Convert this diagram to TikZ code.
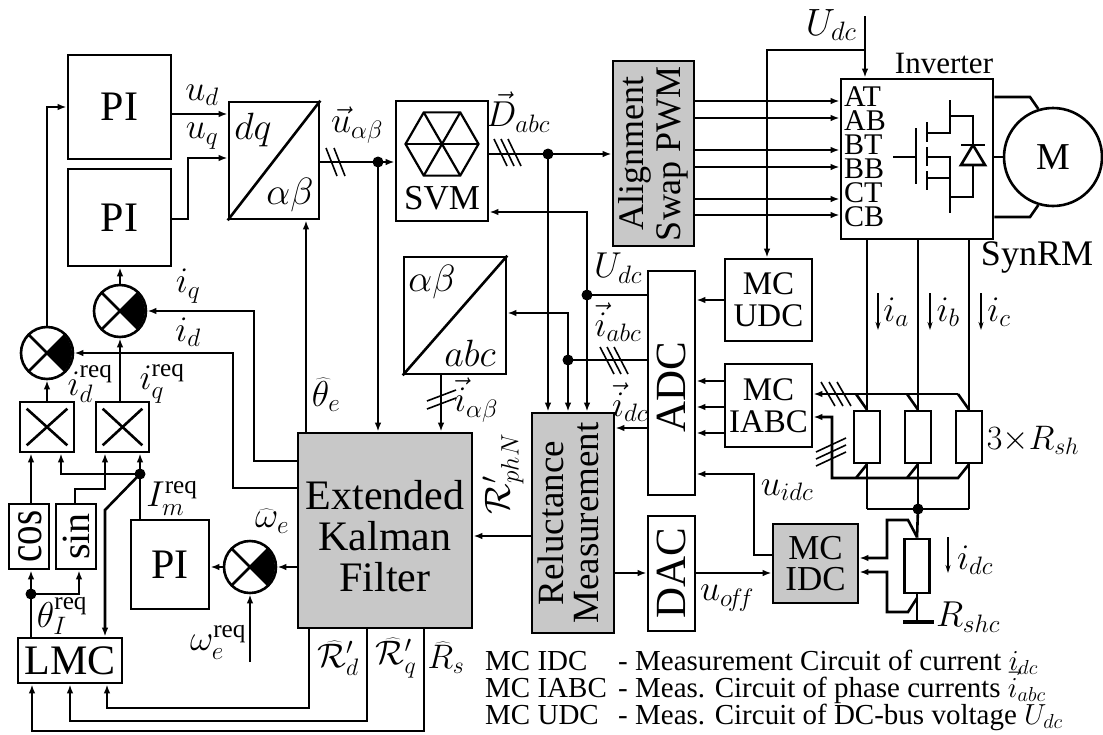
\RequirePackage{fix-cm}
\documentclass[tikz,border=0pt]{standalone}
\usepackage{fontspec}
\setmainfont{Liberation Serif}
\usetikzlibrary{arrows.meta,calc}
\definecolor{boxgray}{RGB}{200,200,200}
\tikzset{
  lw/.style={line width=2.6pt},
  box/.style={draw, lw, inner sep=0pt, align=center},
  gbox/.style={box, fill=boxgray},
  conn/.style={lw, line join=miter},
  arr/.style={conn, -{Latex[length=9pt,width=6.5pt]}},
  slashln/.style={line width=1.6pt},
  sumc/.style={draw, lw, circle, inner sep=0pt, minimum size=52pt},
  jdot/.style={circle, fill, inner sep=0pt, minimum size=11pt},
  fPI/.style={font=\fontsize{42}{44}\selectfont},
  fm/.style={font=\fontsize{36}{38}\selectfont, inner sep=0pt},
  fms/.style={font=\fontsize{34}{36}\selectfont, inner sep=0pt},
  fbig/.style={font=\fontsize{38}{40}\selectfont, inner sep=0pt},
  fmc/.style={font=\fontsize{33}{32}\selectfont},
  fleg/.style={font=\fontsize{29}{29}\selectfont, inner sep=0pt},
  fio/.style={font=\fontsize{30}{30}\selectfont, inner sep=0pt, anchor=west},
  rtext/.style={rotate=90, align=center, inner sep=0pt},
  smallarr/.style={line width=1.4pt, -{Stealth[length=8pt,width=5pt]}},
}
\begin{document}
\begin{tikzpicture}[x=1pt,y=-1pt]
\useasboundingbox (0,0) rectangle (1103,734);

% ---------- blocks ----------
\node[box,fPI,minimum width=103pt,minimum height=104pt] (PI1) at (119.5,107) {PI};
\node[box,fPI,minimum width=103pt,minimum height=97pt] (PI2) at (119.5,217.5) {PI};
\node[box,minimum width=90pt,minimum height=117pt] (dq) at (274,160.5) {};
\draw[conn] (dq.south west) -- (dq.north east);
\node[fbig] (dqt1) at (253,130) {$dq$};
\node[fbig] (dqt2) at (290,195) {$\alpha\beta$};

\node[box,minimum width=92pt,minimum height=120pt] (SVM) at (442,161) {};
\coordinate (hexc) at (442,144);
\draw[line width=2.2pt, line join=miter] (hexc) +(0:36.5) -- +(60:36.5) -- +(120:36.5) -- +(180:36.5) -- +(240:36.5) -- +(300:36.5) -- cycle;
\draw[line width=2.2pt] (hexc) +(0:36.5) -- +(180:36.5);
\draw[line width=2.2pt] (hexc) +(60:36.5) -- +(240:36.5);
\draw[line width=2.2pt] (hexc) +(120:36.5) -- +(300:36.5);
\node[font=\fontsize{35}{36}\selectfont, inner sep=0pt] (svmt) at (442,198) {SVM};

\node[gbox,minimum width=81pt,minimum height=185pt] (AL) at (653.5,153.5) {};
\node[rtext,font=\fontsize{36}{37}\selectfont] (ALt) at (AL.center) {Alignment\\Swap PWM};

\node[box,minimum width=152pt,minimum height=160pt] (Inv) at (917,159) {};
\node[font=\fontsize{31}{32}\selectfont, inner sep=0pt] (invt) at (944,63) {Inverter};
\node[fio] (lAT) at (844,97) {AT};
\node[fio] (lAB) at (844,121) {AB};
\node[fio] (lBT) at (844,145) {BT};
\node[fio] (lBB) at (844,169) {BB};
\node[fio] (lCT) at (844,193) {CT};
\node[fio] (lCB) at (844,217) {CB};
% transistor symbol
\draw[conn] (893,157) -- (916,157);
\draw[conn] (916,128) -- (916,184);
\draw[conn] (927,122) -- (927,142);
\draw[conn] (927,147) -- (927,166);
\draw[conn] (927,171) -- (927,190);
\draw[conn] (927,133) -- (950,133) -- (950,100);
\draw[conn] (927,157) -- (950,157) -- (950,213);
\draw[conn] (927,178) -- (950,178);
\draw[conn] (950,116) -- (973,116) -- (973,145);
\draw[conn] (961,145) -- (985,145);
\draw[conn] (973,145) -- (961,165) -- (985,165) -- cycle;
\draw[conn] (973,165) -- (973,197) -- (950,197);

\node[draw,lw,circle,minimum size=98pt,inner sep=0pt,font=\fontsize{38}{40}\selectfont] (M) at (1053,157) {M};
\node[font=\fontsize{36}{38}\selectfont, inner sep=0pt] (synrm) at (1037,257) {SynRM};

\node[box,minimum width=102pt,minimum height=117pt] (ab) at (455,315.5) {};
\draw[conn] (ab.south west) -- (ab.north east);
\node[fbig] (abt1) at (432,282) {$\alpha\beta$};
\node[fbig] (abt2) at (470,353) {$abc$};

\node[box,minimum width=47pt,minimum height=224pt] (ADC) at (671.5,383) {};
\node[rtext,font=\fontsize{43}{43}\selectfont] (ADCt) at (671.5,387) {ADC};
\node[box,fmc,minimum width=87pt,minimum height=82pt] (MCU) at (768.5,300) {MC\\UDC};
\node[box,fmc,minimum width=87pt,minimum height=83pt] (MCI) at (768.5,405.5) {MC\\IABC};

\node[gbox,minimum width=174pt,minimum height=195pt] (EKF) at (385,530.5) {};
\node[align=center,inner sep=0pt,font=\fontsize{42}{41}\selectfont] (EKFt) at (385,536) {Extended\\Kalman\\Filter};
\node[gbox,minimum width=82pt,minimum height=220pt] (Rel) at (573,523) {};
\node[rtext,font=\fontsize{37}{35}\selectfont] (Relt) at (568,523) {Reluctance\\Measurement};
\node[box,minimum width=47pt,minimum height=115pt] (DAC) at (671.5,573.5) {};
\node[rtext,font=\fontsize{43}{43}\selectfont] (DACt) at (DAC.center) {DAC};
\node[gbox,font=\fontsize{35}{31}\selectfont,minimum width=85pt,minimum height=79pt] (MCD) at (815.5,563.5) {MC\\IDC};

\node[box,fPI,minimum width=78pt,minimum height=89pt] (PI3) at (170,564.5) {PI};
\node[box,font=\fontsize{42}{42}\selectfont,minimum width=104pt,minimum height=45pt] (LMC) at (70,660.5) {LMC};
\node[box,minimum width=40pt,minimum height=65pt] (cos) at (29,536.5) {};
\node[rtext,font=\fontsize{39}{40}\selectfont] (cost) at (30,536.5) {\scalebox{1}[1.25]{cos}};
\node[box,minimum width=40pt,minimum height=65pt] (sin) at (76,536.5) {};
\node[rtext,font=\fontsize{40}{40}\selectfont] (sint) at (sin.center) {sin};

\node[box,minimum width=54pt,minimum height=50pt] (mul1) at (47,427) {};
\draw[conn] ($(mul1.north west)+(8,8)$) -- ($(mul1.south east)+(-8,-8)$);
\draw[conn] ($(mul1.south west)+(8,-8)$) -- ($(mul1.north east)+(-8,8)$);
\node[box,minimum width=53pt,minimum height=50pt] (mul2) at (122.5,427) {};
\draw[conn] ($(mul2.north west)+(8,8)$) -- ($(mul2.south east)+(-8,-8)$);
\draw[conn] ($(mul2.south west)+(8,-8)$) -- ($(mul2.north east)+(-8,8)$);

% sums
\foreach \nm/\cx/\cy in {sum1/47/353, sum2/120/311, sum3/250/567}{
  \fill (\cx,\cy) -- +(-45:25) arc[start angle=-45, end angle=45, radius=25] -- cycle;
  \node[sumc] (\nm) at (\cx,\cy) {};
  \draw[conn] (\cx,\cy) +(45:26) -- +(225:26);
  \draw[conn] (\cx,\cy) +(135:26) -- +(-45:26);
}

% resistors
\node[box,minimum width=26pt,minimum height=52pt] (Ra) at (867,437) {};
\node[box,minimum width=26pt,minimum height=52pt] (Rb) at (918,437) {};
\node[box,minimum width=26pt,minimum height=52pt] (Rc) at (969,437) {};
\node[box,minimum width=25pt,minimum height=54pt] (Rshc) at (917,566) {};

% ---------- connectors ----------
\draw[arr] (sum1.north) |- (PI1.west);
\draw[arr] (sum2.north) -- (PI2.south -| sum2);
\draw[arr] (PI1.east |- 0,114) -- (dq.west |- 0,114);
\draw[arr] (PI2.east |- 0,219) -- (188,219) |- (dq.west |- 0,158);

\coordinate (uab) at (378,162);
\draw[arr] (dq.east |- uab) -- (SVM.west |- uab);
\node[jdot] (uabdot) at (uab) {};
\draw[arr] (uab) -- (uab |- EKF.north);
\draw[slashln] (326,148) -- (337,176);
\draw[slashln] (334,148) -- (345,176);

\coordinate (Dabc) at (548,154);
\draw[arr] (SVM.east |- Dabc) -- (AL.west |- Dabc);
\node[jdot] (Dabcdot) at (Dabc) {};
\draw[arr] (Dabc) -- (Dabc |- Rel.north);
\draw[slashln] (494,139) -- (507,166);
\draw[slashln] (501,139) -- (514,166);
\draw[slashln] (508,139) -- (521,166);

\foreach \yy in {101,118,150,167,199,215}{
  \draw[arr] (AL.east |- 0,\yy) -- (Inv.west |- 0,\yy);
}

\coordinate (UdcTop) at (865,16);
\coordinate (UdcC) at (767,50);
\draw[arr] (UdcTop) -- (UdcTop |- Inv.north);
\draw[arr] (UdcTop |- UdcC) -- (UdcC) -- (UdcC |- MCU.north);

\draw[conn] (Inv.east |- 0,97) -- (1030,97) -- (M.107);
\draw[conn] (Inv.east |- M) -- (M.west);
\draw[conn] (Inv.east |- 0,217) -- (1030,217) -- (M.253);

\foreach \n in {Ra,Rb,Rc}{
  \draw[conn] (Inv.south -| \n) -- (\n.north);
  \draw[conn] (\n.south) -- (\n |- 0,509);
}
\draw[conn] (Ra |- 0,509) -- (Rc |- 0,509);
\coordinate (J) at (918,509);
\node[jdot] (Jdot) at (J) {};
\draw[conn] (J) -- (Rshc.north);
\draw[conn] (Rshc.south) -- (Rshc |- 0,622);
\draw[line width=3.4pt] (903,622) -- (934,622);

\draw[smallarr] (878,293) -- (878,330);
\draw[smallarr] (930,293) -- (930,330);
\draw[smallarr] (981,293) -- (981,330);
\draw[smallarr] (948,537) -- (948,573);

% shunt buses
\draw[arr] (958,394) -- (MCI.east |- 0,394);
\draw[conn] (856,394) -- (Ra.north);
\draw[conn] (907,394) -- (Rb.north);
\draw[conn] (958,394) -- (Rc.north);
\draw[arr] (Rc.south) -- (958,478) -- (832,478) -- (832,417) -- (MCI.east |- 0,417);
\draw[conn] (Ra.south) -- (856,478);
\draw[conn] (Rb.south) -- (907,478);
\draw[slashln] (821,382) -- (835,406);
\draw[slashln] (829,382) -- (843,406);
\draw[slashln] (837,382) -- (851,406);
\draw[slashln] (816,452) -- (846,438);
\draw[slashln] (816,459) -- (846,445);
\draw[slashln] (816,466) -- (846,452);

% ADC
\draw[arr] (MCU.west) -- (ADC.east |- MCU.west);
\foreach \yy in {381,407,433}{
  \draw[arr] (MCI.west |- 0,\yy) -- (ADC.east |- 0,\yy);
}
\coordinate (Udot) at (587,295);
\draw[conn] (ADC.west |- Udot) -- (Udot);
\draw[arr] (Udot) -- (587,212) -- (SVM.east |- 0,212);
\draw[arr] (Udot) -- (Udot |- Rel.north);
\node[jdot] (Udotn) at (Udot) {};
\coordinate (Idot) at (568,360);
\draw[conn] (ADC.west |- Idot) -- (Idot);
\draw[arr] (Idot) -- (568,313) -- (ab.east |- 0,313);
\draw[arr] (Idot) -- (Idot |- Rel.north);
\node[jdot] (Idotn) at (Idot) {};
\draw[slashln] (600,347) -- (614,374);
\draw[slashln] (607,347) -- (621,374);
\draw[slashln] (614,347) -- (628,374);
\draw[arr] (ADC.west |- 0,428) -- (Rel.east |- 0,428);

\draw[arr] (ab.south -| 441,0) -- (EKF.north -| 441,0);
\draw[slashln] (427,409) -- (456,398);
\draw[slashln] (427,401) -- (456,390);
\draw[arr] (EKF.north -| 306,0) -- (dq.south -| 306,0);

\draw[arr] (Rel.west |- 0,536) -- (EKF.east |- 0,536);
\draw[arr] (Rel.east |- 0,573) -- (DAC.west |- 0,573);
\draw[arr] (DAC.east |- 0,573) -- (MCD.west |- 0,573);
\draw[arr] (MCD.west |- 0,555) -- (754,555) -- (754,474) -- (ADC.east |- 0,474);
\draw[arr] (917,537) -- (908,520) -- (887,520) -- (887,558) -- (MCD.east |- 0,558);
\draw[arr] (917,598) -- (908,612) -- (887,612) -- (887,572) -- (MCD.east |- 0,572);

% EKF feedback to sums
\draw[arr] (EKF.west |- 0,461) -- (254,461) -- (254,311) -- (sum2.east);
\draw[arr] (EKF.west |- 0,488) -- (233,488) -- (233,353) -- (sum1.east);
\draw[arr] (EKF.west |- sum3) -- (sum3.east);
\draw[arr] (sum3.west) -- (PI3.east |- sum3);
\draw[arr] (250,662) -- (sum3.south);

% current reference generation
\coordinate (Im) at (140,474);
\draw[conn] (Im |- PI3.north) -- (Im);
\draw[arr] (Im) -- (Im |- mul2.south);
\draw[arr] (Im) -- (61,474) -- (mul1.south -| 61,0);
\draw[arr] (Im) -- (105,510) -- (LMC.north -| 105,0);
\node[jdot] (Imdot) at (Im) {};
\draw[arr] (cos.north -| 31,0) -- (mul1.south -| 31,0);
\draw[arr] (sin.north -| 75,0) -- (75,489) -- (105,489) -- (mul2.south -| 105,0);
\draw[arr] (sum1.south |- mul1.north) -- (sum1.south);
\draw[arr] (sum2.south |- mul2.north) -- (sum2.south);

\coordinate (Th) at (31,594);
\draw[conn] (LMC.north -| Th) -- (Th);
\draw[arr] (Th) -- (cos.south -| Th);
\draw[arr] (Th) -- (79,594) -- (sin.south -| 79,0);
\node[jdot] (Thdot) at (Th) {};

\draw[arr] (EKF.south -| 309,0) -- (309,708) -- (107,708) -- (LMC.south -| 107,0);
\draw[arr] (EKF.south -| 367,0) -- (367,721) -- (70,721) -- (LMC.south -| 70,0);
\draw[arr] (EKF.south -| 424,0) -- (424,731) -- (32,731) -- (LMC.south -| 32,0);

% ---------- labels ----------
\node[fm] (lud) at (202,95) {$u_d$};
\node[fm] (luq) at (202,136) {$u_q$};
\node[fm] (luab) at (357,125) {$\vec{u}_{\alpha\beta}$};
\node[fm] (lD) at (518,112) {$\vec{D}_{abc}$};
\node[fbig] (lUdc1) at (831,25) {$U_{dc}$};
\node[fm] (lUdc2) at (618,268) {$U_{dc}$};
\node[fm] (liabc) at (618,322) {$\vec{i}_{abc}$};
\node[fm] (lidc) at (630,402) {$\vec{i}_{dc}$};
\node[fm] (lia) at (896,312) {$i_a$};
\node[fm] (lib) at (948,312) {$i_b$};
\node[fm] (lic) at (999,312) {$i_c$};
\node[fms] (lRsh) at (1033,440) {$3{\times}R_{sh}$};
\node[fm] (luidc) at (787,490) {$u_{idc}$};
\node[fm] (luoff) at (727,598) {$u_{o\!f\!f}$};
\node[fm] (lidc2) at (975,560) {$i_{dc}$};
\node[fm] (lRshc) at (968,617) {$R_{shc}$};
\node[fm] (ltheta) at (326,395) {$\widehat{\theta}_e$};
\node[fm] (liab) at (476,400) {$\vec{i}_{\alpha\beta}$};
\node[fm,rotate=90] (lRph) at (503,474) {$\mathcal{R}'_{phN}$};
\node[fm] (lwe) at (272,521) {$\widehat{\omega}_e$};
\node[fm] (lwreq) at (218,642) {$\omega_e^{\mathrm{req}}$};
\node[fm] (lImreq) at (172,498) {$I_m^{\mathrm{req}}$};
\node[fm] (lthreq) at (62,616) {$\theta_I^{\mathrm{req}}$};
\node[fm] (lidreq) at (90,384) {$i_d^{\mathrm{req}}$};
\node[fm] (liqreq) at (162,384) {$i_q^{\mathrm{req}}$};
\node[fm] (liq) at (188,286) {$i_q$};
\node[fm] (lid) at (188,332) {$i_d$};
\node[fms] (lRd) at (338,658) {$\widehat{\mathcal{R}}'_d$};
\node[fms] (lRq) at (396,658) {$\widehat{\mathcal{R}}'_q$};
\node[fms] (lRs) at (446,658) {$\widehat{R}_s$};

% legend
\node[fleg,anchor=base west] (lg1a) at (485,670) {MC IDC};
\node[fleg,anchor=base west] (lg1b) at (618,670) {- Measurement Circuit of current $i_{dc}$};
\node[fleg,anchor=base west] (lg2a) at (485,697) {MC IABC};
\node[fleg,anchor=base west] (lg2b) at (618,697) {- Meas. Circuit of phase currents $\vec{i}_{abc}$};
\node[fleg,anchor=base west] (lg3a) at (485,724) {MC UDC};
\node[fleg,anchor=base west] (lg3b) at (618,724) {- Meas. Circuit of DC-bus voltage $U_{dc}$};
\end{tikzpicture}
\end{document}
